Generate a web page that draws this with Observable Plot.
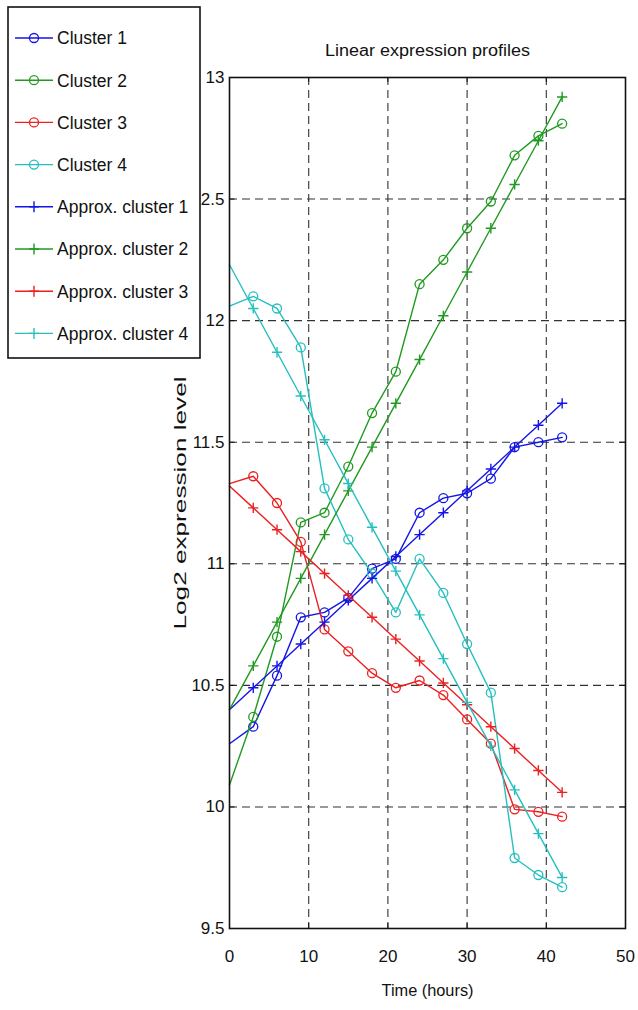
<!DOCTYPE html>
<html><head><meta charset="utf-8">
<script src="https://cdn.jsdelivr.net/npm/d3@7"></script>
<script src="https://cdn.jsdelivr.net/npm/@observablehq/plot@0.6"></script>
<style>
body{margin:0;background:#fff;}
#wrap{position:relative;width:638px;height:1010px;overflow:hidden;}
#legend{position:absolute;left:7px;top:6px;}
</style></head><body><div id="wrap"></div>
<script>
const time = [0,3,6,9,12,15,18,21,24,27,30,33,36,39,42];
const cluster1 = [10.26,10.33,10.54,10.78,10.80,10.86,10.98,11.02,11.21,11.27,11.29,11.35,11.48,11.50,11.52];
const cluster2 = [10.09,10.37,10.70,11.17,11.21,11.40,11.62,11.79,12.15,12.25,12.38,12.49,12.68,12.76,12.81];
const cluster3 = [11.33,11.36,11.25,11.09,10.73,10.64,10.55,10.49,10.52,10.46,10.36,10.26,9.99,9.98,9.96];
const cluster4 = [12.06,12.10,12.05,11.89,11.31,11.10,10.96,10.80,11.02,10.88,10.67,10.47,9.79,9.72,9.67];
const approx1 = [10.40,10.49,10.58,10.67,10.76,10.85,10.94,11.03,11.12,11.21,11.30,11.39,11.48,11.57,11.66];
const approx2 = [10.40,10.58,10.76,10.94,11.12,11.30,11.48,11.66,11.84,12.02,12.20,12.38,12.56,12.74,12.92];
const approx3 = [11.32,11.23,11.14,11.05,10.96,10.87,10.78,10.69,10.60,10.51,10.42,10.33,10.24,10.15,10.06];
const approx4 = [12.23,12.05,11.87,11.69,11.51,11.33,11.15,10.97,10.79,10.61,10.43,10.25,10.07,9.89,9.71];
const seriesNames = ["Cluster 1","Cluster 2","Cluster 3","Cluster 4","Approx. cluster 1","Approx. cluster 2","Approx. cluster 3","Approx. cluster 4"];
const seriesColors = ["#1414e6","#209a20","#ec2020","#26bfbf"];
const xTicks = [0,10,20,30,40,50];
const yTicks = [9.5,10,10.5,11,11.5,12,12.5,13];
const xGrid = [10,20,30,40];
const yGrid = [10,10.5,11,11.5,12,12.5];
const titleText = "Linear expression profiles";
const xLabel = "Time (hours)";
const yLabel = "Log2 expression level";

const clusters = [cluster1, cluster2, cluster3, cluster4];
const approxes = [approx1, approx2, approx3, approx4];
const toRows = (vals) => time.map((t, i) => ({t, v: vals[i]}));

const FONT = "'Liberation Sans',Arial,sans-serif";
const marks = [
  Plot.ruleX(xGrid, {stroke: "#333", strokeWidth: 1.1, strokeDasharray: "8,5"}),
  Plot.ruleY(yGrid, {stroke: "#333", strokeWidth: 1.1, strokeDasharray: "8,5"}),
];
clusters.forEach((vals, k) => {
  const rows = toRows(vals);
  marks.push(Plot.line(rows, {x: "t", y: "v", stroke: seriesColors[k], strokeWidth: 1.4}));
  marks.push(Plot.dot(rows.filter(d => d.t > 0), {x: "t", y: "v", stroke: seriesColors[k], symbol: "circle", r: 4.5, strokeWidth: 1.3, fill: "none"}));
});
approxes.forEach((vals, k) => {
  const rows = toRows(vals);
  marks.push(Plot.line(rows, {x: "t", y: "v", stroke: seriesColors[k], strokeWidth: 1.4}));
  marks.push(Plot.dot(rows.filter(d => d.t > 0), {x: "t", y: "v", stroke: seriesColors[k], symbol: "plus", r: 3.4, strokeWidth: 1.4}));
});
marks.push(
  Plot.frame({stroke: "#111", strokeWidth: 1.6}),
  Plot.ruleY(yTicks, {x1: 0, x2: 0.7, stroke: "#111"}),
  Plot.ruleY(yTicks, {x1: 49.3, x2: 50, stroke: "#111"}),
  Plot.ruleX(xTicks, {y1: 9.5, y2: 9.52, stroke: "#111"}),
  Plot.ruleX(xTicks, {y1: 12.98, y2: 13, stroke: "#111"}),
  Plot.axisX(xTicks, {tickSize: 0, tickPadding: 21, fontSize: 17, fill: "#111", label: null}),
  Plot.axisY(yTicks, {tickSize: 0, tickPadding: 5, fontSize: 17, fill: "#111", label: null, tickFormat: d => String(d)}),
  Plot.text([titleText], {frameAnchor: "top", dy: -33, fontSize: 16, fill: "#111", text: d => d, textAnchor: "middle"}),
  Plot.text([xLabel], {frameAnchor: "bottom", dy: 67, fontSize: 16, fill: "#111", text: d => d, textAnchor: "middle"}),
  Plot.text([yLabel], {frameAnchor: "left", dx: -49, rotate: -90, fontSize: 16, fill: "#111", text: d => d, textAnchor: "middle"})
);

const chart = Plot.plot({
  width: 638, height: 1010,
  marginLeft: 229, marginRight: 13, marginTop: 77, marginBottom: 82,
  style: {fontFamily: FONT, background: "#fff", overflow: "visible"},
  x: {domain: [0, 50]},
  y: {domain: [9.5, 13]},
  marks
});
// stretch label glyphs the way the (vertically stretched) reference shows them
const stretch = {[titleText]: 205, [xLabel]: 92, [yLabel]: 253};
chart.querySelectorAll("text").forEach(t => {
  const len = stretch[t.textContent];
  if (len) { t.setAttribute("textLength", len); t.setAttribute("lengthAdjust", "spacingAndGlyphs"); }
});
const wrap = document.getElementById("wrap");
wrap.appendChild(chart);

// legend
const lw = 194, lh = 353;
const leg = d3.select(wrap).append("svg").attr("id", "legend").attr("width", lw).attr("height", lh);
leg.append("rect").attr("x", 1).attr("y", 1).attr("width", lw - 2).attr("height", lh - 2)
  .attr("fill", "#fff").attr("stroke", "#111").attr("stroke-width", 1.6);
seriesNames.forEach((name, i) => {
  const y = 32 + i * 42.2;
  const c = seriesColors[i % 4];
  const g = leg.append("g").attr("transform", `translate(0,${y})`);
  g.append("line").attr("x1", 8).attr("x2", 46).attr("y1", 0).attr("y2", 0).attr("stroke", c).attr("stroke-width", 1.4);
  if (i < 4) {
    g.append("circle").attr("cx", 27).attr("cy", 0).attr("r", 4.5).attr("fill", "none").attr("stroke", c).attr("stroke-width", 1.3);
  } else {
    g.append("path").attr("d", "M22,0H32M27,-5.5V5.5").attr("stroke", c).attr("stroke-width", 1.4);
  }
  g.append("text").attr("x", 50).attr("y", 0).attr("dy", "0.36em").attr("font-size", 17.5)
    .attr("font-family", FONT).attr("fill", "#111").text(name);
});
</script>
</body></html>
